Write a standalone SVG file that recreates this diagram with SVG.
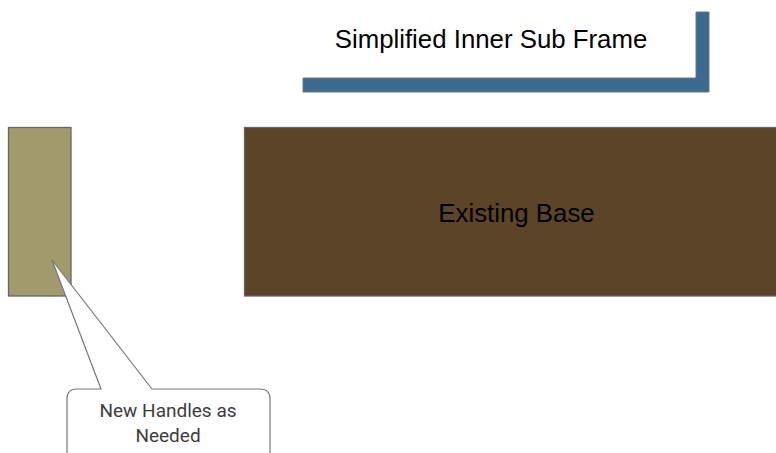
<svg xmlns="http://www.w3.org/2000/svg" width="776" height="453" viewBox="0 0 776 453">
<style>
.lbl{font-family:"Liberation Sans",Arial,sans-serif;fill:#000}
.co{font-family:Roboto,"Liberation Sans",sans-serif;fill:#3c3c3c;font-size:19px}
.sh{stroke:#666;stroke-width:1.3}
</style>
<rect width="776" height="453" fill="#fff"/>
<g id="frame">
<path d="M303,78 H696 V12 H709 V92 H303 Z" fill="#3b6b90" stroke="#777" stroke-width="1"/>
<text class="lbl" x="491" y="48" font-size="25.8" text-anchor="middle">Simplified Inner Sub Frame</text>
</g>
<g id="handle">
<rect class="sh" x="8.5" y="127.5" width="62.5" height="168.5" fill="#a19a6c"/>
</g>
<g id="base">
<rect class="sh" x="244.5" y="127.5" width="540" height="168.5" fill="#5c4428"/>
<text class="lbl" x="516.5" y="222" font-size="25.8" text-anchor="middle">Existing Base</text>
</g>
<g id="callout">
<path d="M101,389 L52,260 L152,389 H260 Q270,389 270,399 V470 H67 V399 Q67,389 77,389 Z" fill="#fff" stroke="#777" stroke-width="1.2"/>
<text class="co" x="168" y="417" text-anchor="middle">New Handles as</text>
<text class="co" x="168" y="442" text-anchor="middle">Needed</text>
</g>
</svg>
